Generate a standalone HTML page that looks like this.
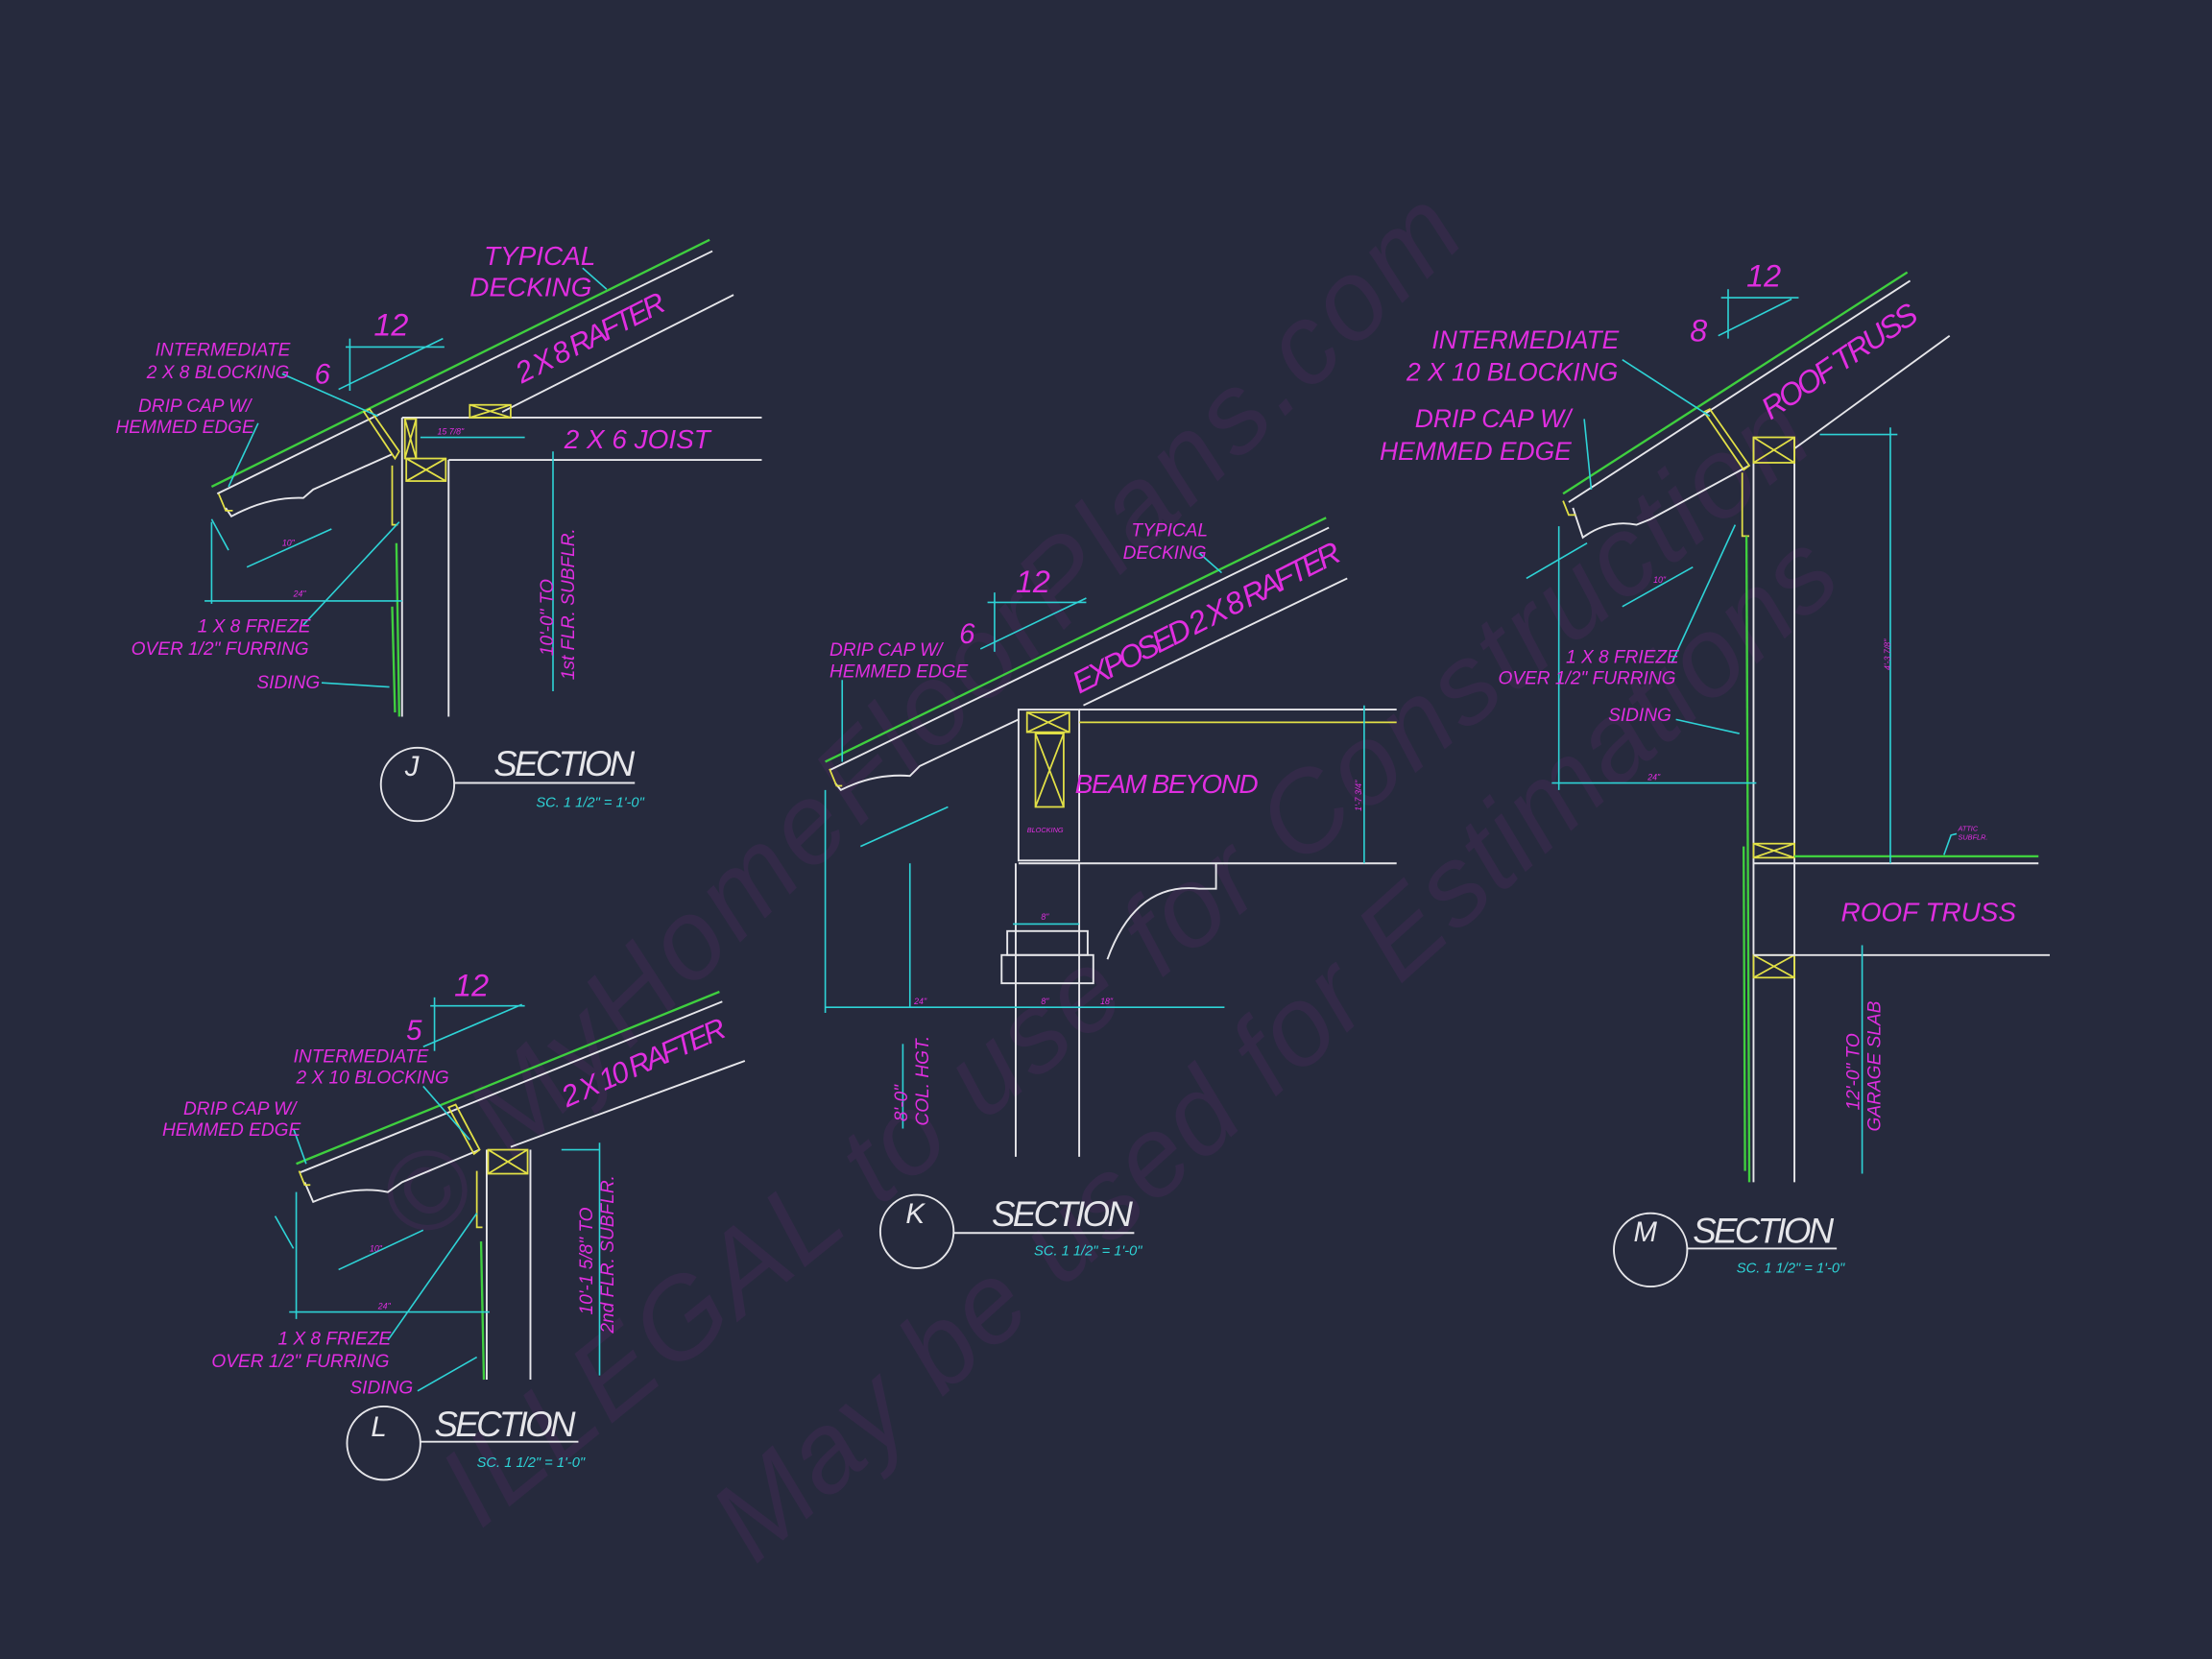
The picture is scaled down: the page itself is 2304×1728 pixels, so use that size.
<!DOCTYPE html>
<html><head><meta charset="utf-8"><style>
html,body{margin:0;padding:0;background:#262a3d;}
svg{display:block;}
.w{stroke:#e6e6ea;stroke-width:1.3;fill:none}
.g{stroke:#3fcf3f;stroke-width:1.6;fill:none}
.c{stroke:#2ed3d6;stroke-width:1.1;fill:none}
.y{stroke:#e2e046;stroke-width:1.2;fill:none}
text{font-family:"Liberation Sans",sans-serif;font-style:italic;fill:#e02ee0}
.t{font-size:13px}
.ct{fill:#2ed3d6;font-size:10px}
.sec{fill:#e6e6ea;font-size:25px}
.wm{fill:#a0a0b0;fill-opacity:0.07;font-family:"Liberation Serif",serif;font-style:normal}
</style></head><body>
<svg width="2304" height="1728" viewBox="0 0 1568 1176" xmlns="http://www.w3.org/2000/svg">
<rect width="1568" height="1176" fill="#262a3d"/>
<g class="wm">
<text x="0" y="0" font-size="80" textLength="1030" transform="translate(300,885) rotate(-44)">© MyHomeFloorPlans.com</text>
<text x="0" y="0" font-size="80" textLength="1220" transform="translate(340,1085) rotate(-39)">ILLEGAL to use for Construction</text>
<text x="0" y="0" font-size="80" textLength="1040" transform="translate(535,1110) rotate(-42)">May be used for Estimations</text>
</g>

<!-- J -->
<line class="g" x1="150" y1="345" x2="503" y2="170"/>
<line class="w" x1="154" y1="350" x2="505" y2="178"/>
<line class="w" x1="356" y1="292" x2="520" y2="209"/>
<path class="w" d="M160,360 L164,366 Q190,352 215,353 L222,347 L278,322"/>
<path class="y" d="M155,350 L160,362 L165,362"/>
<path class="y" d="M258,292 L262,290 L283,320 L280,325 Z"/>
<line class="w" x1="285" y1="296" x2="540" y2="296"/>
<line class="w" x1="318" y1="326" x2="540" y2="326"/>
<line class="w" x1="285" y1="296" x2="285" y2="508"/>
<line class="w" x1="318" y1="326" x2="318" y2="508"/>
<rect x="287" y="297" width="8" height="28" class="y"/>
<path class="y" d="M287,297 L295,325 M295,297 L287,325"/>
<rect x="288" y="325" width="28" height="16" class="y"/>
<path class="y" d="M288,325 L316,341 M316,325 L288,341"/>
<rect x="333" y="287" width="29" height="9" class="y"/>
<path class="y" d="M333,287 L362,296 M362,287 L333,296"/>
<path class="y" d="M278,330 L278,372 L282,372"/>
<line class="g" x1="281" y1="385" x2="283" y2="508"/>
<line class="g" x1="278" y1="430" x2="280" y2="505"/>
<line class="c" x1="245" y1="246" x2="315" y2="246"/>
<line class="c" x1="248" y1="240" x2="248" y2="277"/>
<line class="c" x1="240" y1="276" x2="314" y2="240"/>
<line class="c" x1="150" y1="370" x2="150" y2="428"/>
<line class="c" x1="145" y1="426" x2="285" y2="426"/>
<line class="c" x1="150" y1="368" x2="162" y2="390"/>
<line class="c" x1="175" y1="402" x2="235" y2="375"/>
<line class="c" x1="298" y1="310" x2="372" y2="310"/>
<line class="c" x1="392" y1="320" x2="392" y2="490"/>
<line class="c" x1="200" y1="265" x2="268" y2="295"/>
<line class="c" x1="183" y1="300" x2="162" y2="345"/>
<line class="c" x1="215" y1="443" x2="283" y2="370"/>
<line class="c" x1="228" y1="484" x2="276" y2="487"/>
<line class="c" x1="413" y1="190" x2="430" y2="205"/>
<text x="343" y="188" font-size="19">TYPICAL</text>
<text x="333" y="210" font-size="19">DECKING</text>
<text x="265" y="238" font-size="22">12</text>
<text x="223" y="272" font-size="20">6</text>
<text font-size="21" textLength="116" transform="translate(370,272) rotate(-27)">2 X 8 RAFTER</text>
<text class="t" x="110" y="252">INTERMEDIATE</text>
<text class="t" x="104" y="268">2 X 8 BLOCKING</text>
<text class="t" x="98" y="292">DRIP CAP W/</text>
<text class="t" x="82" y="307">HEMMED EDGE</text>
<text x="400" y="318" font-size="19">2 X 6 JOIST</text>
<text font-size="6" x="310" y="308">15 7/8"</text>
<text font-size="6" x="200" y="387">10"</text>
<text font-size="6" x="208" y="423">24"</text>
<text class="t" font-size="12" transform="translate(392,465) rotate(-90)">10'-0" TO</text>
<text class="t" font-size="12" transform="translate(407,482) rotate(-90)">1st FLR. SUBFLR.</text>
<text class="t" x="140" y="448">1 X 8 FRIEZE</text>
<text class="t" x="93" y="464">OVER 1/2" FURRING</text>
<text class="t" x="182" y="488">SIDING</text>
<circle cx="296" cy="556" r="26" class="w"/>
<line class="w" x1="322" y1="555" x2="450" y2="555"/>
<text x="287" y="550" font-size="20" style="fill:#e6e6ea">J</text>
<text class="sec" x="350" y="550" textLength="100">SECTION</text>
<text class="ct" x="380" y="572">SC. 1 1/2" = 1'-0"</text>

<!-- K -->
<line class="g" x1="585" y1="540" x2="940" y2="367"/>
<line class="w" x1="588" y1="546" x2="942" y2="374"/>
<line class="w" x1="768" y1="500" x2="955" y2="410"/>
<path class="w" d="M592,555 L596,560 Q620,548 645,550 L652,543 L722,510"/>
<path class="y" d="M588,545 L593,557 L597,557"/>
<rect x="722" y="503" width="43" height="107" class="w"/>
<rect x="728" y="505" width="30" height="14" class="y"/>
<path class="y" d="M728,505 L758,519 M758,505 L728,519"/>
<rect x="734" y="520" width="20" height="52" class="y"/>
<path class="y" d="M734,520 L754,572 M754,520 L734,572"/>
<line class="w" x1="765" y1="503" x2="990" y2="503"/>
<line class="y" x1="765" y1="512" x2="990" y2="512"/>
<line class="w" x1="722" y1="612" x2="990" y2="612"/>
<path class="w" d="M785,680 Q805,625 850,630 L862,630 L862,612"/>
<line class="w" x1="720" y1="612" x2="720" y2="820"/>
<line class="w" x1="765" y1="612" x2="765" y2="820"/>
<rect x="710" y="677" width="65" height="20" class="w"/>
<rect x="714" y="660" width="57" height="17" class="w"/>
<line class="c" x1="967" y1="500" x2="967" y2="612"/>
<line class="c" x1="585" y1="714" x2="868" y2="714"/>
<line class="c" x1="645" y1="612" x2="645" y2="714"/>
<line class="c" x1="585" y1="560" x2="585" y2="718"/>
<line class="c" x1="718" y1="655" x2="765" y2="655"/>
<line class="c" x1="610" y1="600" x2="672" y2="572"/>
<line class="c" x1="700" y1="427" x2="770" y2="427"/>
<line class="c" x1="705" y1="420" x2="705" y2="462"/>
<line class="c" x1="695" y1="460" x2="770" y2="424"/>
<line class="c" x1="640" y1="740" x2="640" y2="800"/>
<line class="c" x1="597" y1="482" x2="597" y2="540"/>
<line class="c" x1="850" y1="392" x2="866" y2="406"/>
<text class="t" x="802" y="380">TYPICAL</text>
<text class="t" x="796" y="396">DECKING</text>
<text x="720" y="420" font-size="22">12</text>
<text x="680" y="456" font-size="20">6</text>
<text font-size="22" textLength="210" transform="translate(765,492) rotate(-27)">EXPOSED 2 X 8 RAFTER</text>
<text class="t" x="588" y="465">DRIP CAP W/</text>
<text class="t" x="588" y="480">HEMMED EDGE</text>
<text x="762" y="562" font-size="19" textLength="130">BEAM BEYOND</text>
<text font-size="5" x="728" y="590">BLOCKING</text>
<text font-size="6" transform="translate(965,575) rotate(-90)">1'-7 3/4"</text>
<text font-size="6" x="738" y="652">8"</text>
<text font-size="6" x="648" y="712">24"</text>
<text font-size="6" x="738" y="712">8"</text>
<text font-size="6" x="780" y="712">18"</text>
<text class="t" font-size="14" transform="translate(643,795) rotate(-90)">8'-0"</text>
<text class="t" font-size="12" transform="translate(658,798) rotate(-90)">COL. HGT.</text>
<circle cx="650" cy="873" r="26" class="w"/>
<line class="w" x1="676" y1="874" x2="804" y2="874"/>
<text x="642" y="867" font-size="20" style="fill:#e6e6ea">K</text>
<text class="sec" x="703" y="869" textLength="100">SECTION</text>
<text class="ct" x="733" y="890">SC. 1 1/2" = 1'-0"</text>

<!-- L -->
<line class="g" x1="210" y1="825" x2="510" y2="703"/>
<line class="w" x1="213" y1="831" x2="512" y2="710"/>
<line class="w" x1="362" y1="813" x2="528" y2="752"/>
<path class="w" d="M216,838 L222,852 Q250,840 275,845 L285,838 L340,815"/>
<path class="y" d="M212,830 L216,840 L220,840"/>
<path class="y" d="M318,785 L323,783 L340,815 L336,818 Z"/>
<line class="w" x1="345" y1="815" x2="345" y2="978"/>
<line class="w" x1="376" y1="815" x2="376" y2="978"/>
<rect x="346" y="815" width="28" height="17" class="y"/>
<path class="y" d="M346,815 L374,832 M374,815 L346,832"/>
<path class="y" d="M338,830 L338,870 L342,870"/>
<line class="g" x1="341" y1="880" x2="343" y2="978"/>
<line class="c" x1="305" y1="713" x2="372" y2="713"/>
<line class="c" x1="308" y1="707" x2="308" y2="745"/>
<line class="c" x1="300" y1="742" x2="370" y2="712"/>
<line class="c" x1="210" y1="845" x2="210" y2="935"/>
<line class="c" x1="205" y1="930" x2="347" y2="930"/>
<line class="c" x1="240" y1="900" x2="300" y2="872"/>
<line class="c" x1="195" y1="862" x2="208" y2="885"/>
<line class="c" x1="425" y1="810" x2="425" y2="975"/>
<line class="c" x1="398" y1="815" x2="425" y2="815"/>
<line class="c" x1="300" y1="770" x2="333" y2="808"/>
<line class="c" x1="208" y1="800" x2="217" y2="825"/>
<line class="c" x1="275" y1="950" x2="338" y2="860"/>
<line class="c" x1="296" y1="986" x2="338" y2="962"/>
<text x="322" y="706" font-size="22">12</text>
<text x="288" y="737" font-size="20">5</text>
<text font-size="21" textLength="125" transform="translate(402,785) rotate(-24)">2 X 10 RAFTER</text>
<text class="t" x="208" y="753">INTERMEDIATE</text>
<text class="t" x="210" y="768">2 X 10 BLOCKING</text>
<text class="t" x="130" y="790">DRIP CAP W/</text>
<text class="t" x="115" y="805">HEMMED EDGE</text>
<text font-size="6" x="262" y="887">10"</text>
<text font-size="6" x="268" y="928">24"</text>
<text class="t" font-size="12" transform="translate(420,932) rotate(-90)">10'-1 5/8" TO</text>
<text class="t" font-size="12" transform="translate(435,945) rotate(-90)">2nd FLR. SUBFLR.</text>
<text class="t" x="197" y="953">1 X 8 FRIEZE</text>
<text class="t" x="150" y="969">OVER 1/2" FURRING</text>
<text class="t" x="248" y="988">SIDING</text>
<circle cx="272" cy="1023" r="26" class="w"/>
<line class="w" x1="298" y1="1022" x2="410" y2="1022"/>
<text x="263" y="1018" font-size="20" style="fill:#e6e6ea">L</text>
<text class="sec" x="308" y="1018" textLength="100">SECTION</text>
<text class="ct" x="338" y="1040">SC. 1 1/2" = 1'-0"</text>

<!-- M -->
<line class="g" x1="1108" y1="350" x2="1352" y2="193"/>
<line class="w" x1="1112" y1="356" x2="1354" y2="199"/>
<line class="w" x1="1272" y1="318" x2="1382" y2="238"/>
<path class="w" d="M1115,360 L1122,381 Q1140,368 1160,372 L1170,368 L1240,330"/>
<path class="y" d="M1108,355 L1112,365 L1117,365"/>
<path class="y" d="M1208,292 L1212,290 L1240,330 L1236,333 Z"/>
<line class="w" x1="1243" y1="310" x2="1243" y2="838"/>
<line class="w" x1="1272" y1="310" x2="1272" y2="838"/>
<rect x="1243" y="310" width="29" height="18" class="y"/>
<path class="y" d="M1243,310 L1272,328 M1272,310 L1243,328"/>
<rect x="1243" y="598" width="29" height="10" class="y"/>
<path class="y" d="M1243,598 L1272,608 M1272,598 L1243,608"/>
<rect x="1243" y="677" width="29" height="16" class="y"/>
<path class="y" d="M1243,677 L1272,693 M1272,677 L1243,693"/>
<path class="y" d="M1235,335 L1235,380 L1240,380"/>
<line class="g" x1="1238" y1="380" x2="1240" y2="838"/>
<line class="g" x1="1236" y1="600" x2="1237" y2="830"/>
<line class="g" x1="1272" y1="607" x2="1445" y2="607"/>
<line class="w" x1="1243" y1="612" x2="1445" y2="612"/>
<line class="w" x1="1243" y1="677" x2="1453" y2="677"/>
<line class="c" x1="1290" y1="308" x2="1345" y2="308"/>
<line class="c" x1="1340" y1="303" x2="1340" y2="612"/>
<line class="c" x1="1320" y1="670" x2="1320" y2="832"/>
<line class="c" x1="1220" y1="211" x2="1275" y2="211"/>
<line class="c" x1="1225" y1="205" x2="1225" y2="240"/>
<line class="c" x1="1218" y1="238" x2="1270" y2="212"/>
<line class="c" x1="1105" y1="373" x2="1105" y2="560"/>
<line class="c" x1="1100" y1="555" x2="1245" y2="555"/>
<line class="c" x1="1082" y1="410" x2="1125" y2="385"/>
<line class="c" x1="1150" y1="430" x2="1200" y2="402"/>
<line class="c" x1="1150" y1="255" x2="1212" y2="295"/>
<line class="c" x1="1123" y1="297" x2="1128" y2="347"/>
<line class="c" x1="1185" y1="470" x2="1230" y2="372"/>
<line class="c" x1="1188" y1="510" x2="1233" y2="520"/>
<path class="c" d="M1378,606 L1383,592 L1387,591"/>
<text x="1238" y="203" font-size="22">12</text>
<text x="1198" y="242" font-size="22">8</text>
<text font-size="22" textLength="128" transform="translate(1255,298) rotate(-34)">ROOF TRUSS</text>
<text x="1015" y="247" font-size="18">INTERMEDIATE</text>
<text x="997" y="270" font-size="18">2 X 10 BLOCKING</text>
<text x="1003" y="303" font-size="18">DRIP CAP W/</text>
<text x="978" y="326" font-size="18">HEMMED EDGE</text>
<text font-size="6" x="1172" y="413">10"</text>
<text font-size="6" x="1168" y="553">24"</text>
<text font-size="6" transform="translate(1340,475) rotate(-90)">4'-3 7/8"</text>
<text font-size="5" x="1388" y="589">ATTIC</text>
<text font-size="5" x="1388" y="595">SUBFLR.</text>
<text class="t" x="1110" y="470">1 X 8 FRIEZE</text>
<text class="t" x="1062" y="485">OVER 1/2" FURRING</text>
<text class="t" x="1140" y="511">SIDING</text>
<text x="1305" y="653" font-size="19">ROOF TRUSS</text>
<text class="t" font-size="13" transform="translate(1318,787) rotate(-90)">12'-0" TO</text>
<text class="t" font-size="12" transform="translate(1333,802) rotate(-90)">GARAGE SLAB</text>
<circle cx="1170" cy="886" r="26" class="w"/>
<line class="w" x1="1196" y1="885" x2="1302" y2="885"/>
<text x="1158" y="880" font-size="20" style="fill:#e6e6ea">M</text>
<text class="sec" x="1200" y="881" textLength="100">SECTION</text>
<text class="ct" x="1231" y="902">SC. 1 1/2" = 1'-0"</text>
</svg>
</body></html>
